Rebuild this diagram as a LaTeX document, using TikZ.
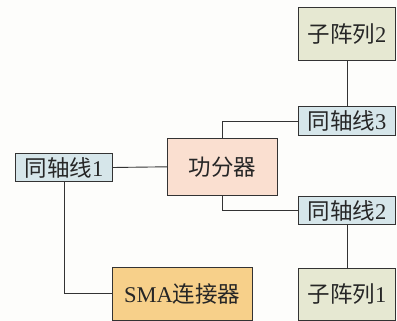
\documentclass[tikz,border=0pt]{standalone}
\usepackage{fontspec}
\setmainfont{Liberation Serif}
\newfontfamily\cjk{Noto Sans CJK SC}
\definecolor{bgc}{HTML}{FDFDFB}
\definecolor{subc}{HTML}{E6E8D2}
\definecolor{coaxc}{HTML}{D6E6EA}
\definecolor{pdc}{HTML}{FADFD0}
\definecolor{smac}{HTML}{F7D08A}
\definecolor{edgec}{HTML}{333333}
\begin{document}
\begin{tikzpicture}[x=1pt,y=-1pt,
  blk/.style={draw=edgec,line width=1pt,rectangle,inner sep=0pt,font=\fontsize{22.5}{24}\selectfont,text=black!85},
  wire/.style={draw=edgec,line width=0.9pt}]
\fill[bgc] (0,0) rectangle (397,321);
\useasboundingbox (0,0) rectangle (397,321);
\node[blk,fill=subc,minimum width=97.4pt,minimum height=52.7pt] (sub2) at (347,33.7) {{\cjk 子阵列}2};
\node[blk,fill=coaxc,minimum width=97.4pt,minimum height=29pt] (coax3) at (347,121.2) {{\cjk 同轴线}3};
\node[blk,fill=pdc,minimum width=110.4pt,minimum height=57pt] (pd) at (222.5,166.8) {\cjk 功分器};
\node[blk,fill=coaxc,minimum width=96.6pt,minimum height=28.4pt] (coax1) at (64,167.5) {{\cjk 同轴线}1};
\node[blk,fill=coaxc,minimum width=97.4pt,minimum height=28.3pt] (coax2) at (347,210.8) {{\cjk 同轴线}2};
\node[blk,fill=subc,minimum width=97.4pt,minimum height=51.7pt] (sub1) at (347,294.2) {{\cjk 子阵列}1};
\node[blk,fill=smac,minimum width=140pt,minimum height=52.3pt] (sma) at (182.3,293.9) {SMA{\cjk 连接器}};
\draw[wire] (sub2.south) -- (coax3.north);
\draw[wire] (coax3.west) -| (pd.north);
\draw[wire] (pd.south) |- (coax2.west);
\draw[wire] (coax2.south) -- (sub1.north);
\draw[wire] (coax1.east) -- (pd.west);
\draw[wire] (coax1.south) |- (sma.west);
\end{tikzpicture}
\end{document}
